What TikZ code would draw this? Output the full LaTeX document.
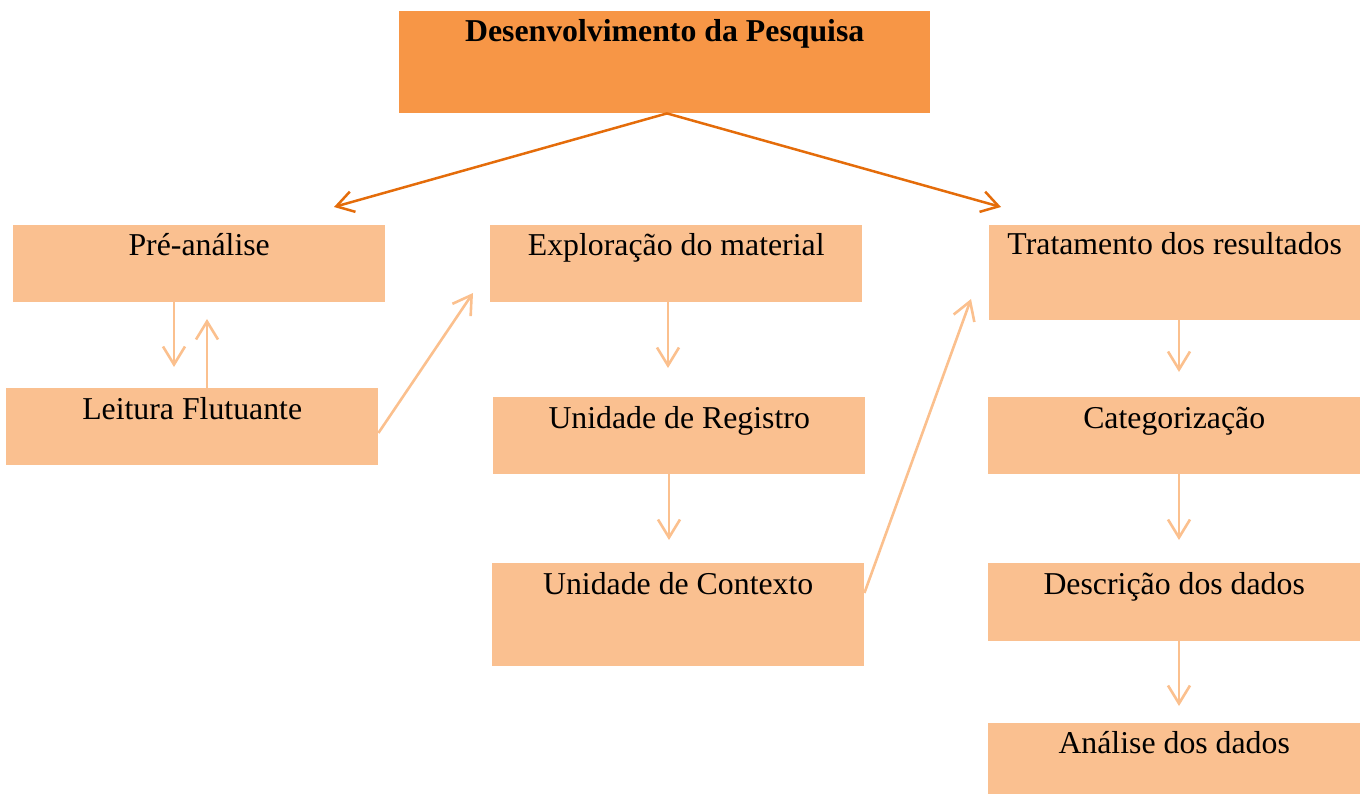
\documentclass[tikz,border=0pt]{standalone}
\usepackage{fontspec}
\setmainfont{Liberation Serif}
\usetikzlibrary{arrows.meta,calc}
\definecolor{topor}{HTML}{F79646}
\definecolor{lightor}{HTML}{FAC090}
\definecolor{darkar}{HTML}{E46C0A}
\definecolor{lightar}{HTML}{FBC08E}
\tikzset{
  boxst/.style={fill=lightor, draw=none, anchor=north west, inner sep=0pt},
  topbox/.style={fill=topor, draw=none, anchor=north west, inner sep=0pt},
  lbl/.style={anchor=base, inner sep=0pt, font=\fontsize{31.8}{38}\selectfont},
  tlbl/.style={anchor=base, inner sep=0pt, font=\fontsize{31.8}{38}\selectfont\bfseries},
  darr/.style={draw=darkar, line width=2.5pt, -{Straight Barb[length=17pt,width=21pt]}},
  larr/.style={draw=lightar, line width=2.6pt, -{Straight Barb[length=18pt,width=22pt]}}
}
\begin{document}
\begin{tikzpicture}[x=1pt,y=-1pt]
\useasboundingbox (0,0) rectangle (1360,794);
% boxes
\node[topbox, minimum width=531pt, minimum height=102pt] (top) at (399,11) {};
\node[boxst, minimum width=372pt, minimum height=77pt] (pre) at (13,225) {};
\node[boxst, minimum width=372pt, minimum height=77pt] (leit) at (6,388) {};
\node[boxst, minimum width=372pt, minimum height=77pt] (expl) at (490,225) {};
\node[boxst, minimum width=372pt, minimum height=77pt] (reg) at (493,397) {};
\node[boxst, minimum width=372pt, minimum height=103pt] (ctx) at (492,563) {};
\node[boxst, minimum width=371pt, minimum height=95pt] (trat) at (989,225) {};
\node[boxst, minimum width=372pt, minimum height=77pt] (cat) at (988,397) {};
\node[boxst, minimum width=372pt, minimum height=78pt] (desc) at (988,563) {};
\node[boxst, minimum width=372pt, minimum height=71pt] (anal) at (988,723) {};
% labels
\node[tlbl] (ttop) at ($(top.north)+(0,31)$) {Desenvolvimento da Pesquisa};
\node[lbl] (tpre) at ($(pre.north)+(0,31)$) {Pré-análise};
\node[lbl] (tleit) at ($(leit.north)+(0,31)$) {Leitura Flutuante};
\node[lbl] (texpl) at ($(expl.north)+(0,31)$) {Exploração do material};
\node[lbl] (treg) at ($(reg.north)+(0,31)$) {Unidade de Registro};
\node[lbl] (tctx) at ($(ctx.north)+(0,31)$) {Unidade de Contexto};
\node[lbl] (ttrat) at ($(trat.north)+(0,30)$) {Tratamento dos resultados};
\node[lbl] (tcat) at ($(cat.north)+(0,31)$) {Categorização};
\node[lbl] (tdesc) at ($(desc.north)+(0,31)$) {Descrição dos dados};
\node[lbl] (tanal) at ($(anal.north)+(0,30)$) {Análise dos dados};
% arrow end points
\coordinate (apex) at (667,113);
\coordinate (tl) at (334,207);
\coordinate (tr) at (1001,207);
\coordinate (d1) at (174,367);
\coordinate (u1) at (207,319);
\coordinate (s1) at (378,433);
\coordinate (e1) at (473,293);
\coordinate (s2) at (863,593);
\coordinate (e2) at (971,299);
\coordinate (d2) at (668,368);
\coordinate (d3) at (669,540);
\coordinate (d4) at (1179,372);
\coordinate (d5) at (1179,540);
\coordinate (d6) at (1179,706);
% arrows
\draw[darr] (top.south -| apex) -- (tl);
\draw[darr] (top.south -| apex) -- (tr);
\draw[larr] (pre.south -| d1) -- (d1);
\draw[larr] (leit.north -| u1) -- (u1);
\draw[larr] (leit.east |- s1) -- (e1);
\draw[larr] (ctx.east |- s2) -- (e2);
\draw[larr] (expl.south -| d2) -- (d2);
\draw[larr] (reg.south -| d3) -- (d3);
\draw[larr] (trat.south -| d4) -- (d4);
\draw[larr] (cat.south -| d5) -- (d5);
\draw[larr] (desc.south -| d6) -- (d6);
\end{tikzpicture}
\end{document}
